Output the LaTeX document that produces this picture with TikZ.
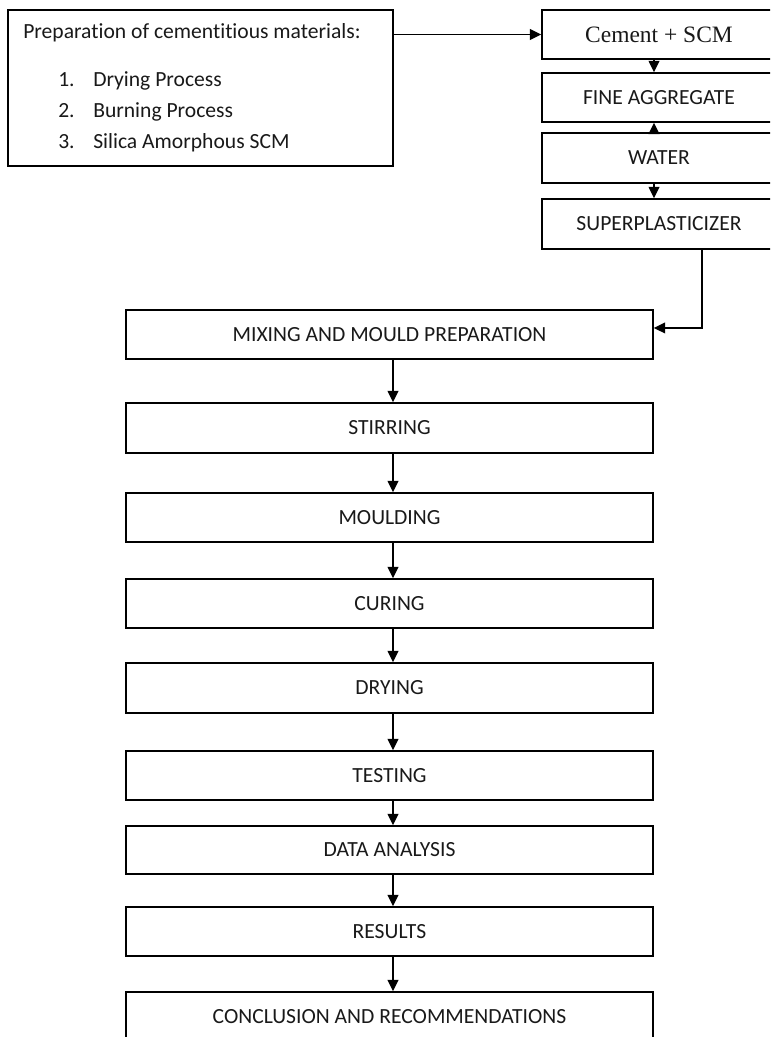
\documentclass[tikz,border=0pt]{standalone}
\usepackage{fontspec}
\setmainfont{Carlito}[Ligatures={NoCommon}]
\newfontfamily\serifface{Liberation Serif}
\usetikzlibrary{arrows.meta}
\begin{document}
\begin{tikzpicture}[x=0.75pt,y=-0.75pt,
  box/.style={draw=black,line width=1.1pt,inner sep=0pt,font=\fontsize{16.2}{19}\selectfont,text=black!90},
  mainbox/.style={box,minimum width=395.25pt,minimum height=36.75pt},
  stackbox/.style={box,minimum width=175.5pt,minimum height=36.75pt},
  arr/.style={line width=1.1pt,-{Triangle[length=8.5pt,width=8pt]}},
  itemtext/.style={anchor=base west,inner sep=0pt,font=\fontsize{16.2}{19}\selectfont,text=black!90}]
\useasboundingbox (0,0) rectangle (770,1037);
\clip (0,0) rectangle (770,1037);

% preparation of the cementitious materials
\node[box,minimum width=288.75pt,minimum height=117pt] (prep) at (200.5,88) {};
\node[itemtext] (prephead) at (23,39) {Preparation of cementitious materials:};
\node[itemtext] (item1) at (58,87) {\makebox[26.25pt][l]{1.}Drying Process};
\node[itemtext] (item2) at (58,118) {\makebox[26.25pt][l]{2.}Burning Process};
\node[itemtext] (item3) at (58,149) {\makebox[26.25pt][l]{3.}Silica Amorphous SCM};

% ingredient stack
\node[stackbox,font=\serifface\fontsize{17.6}{21}\selectfont] (cem) at (659,34.5) {Cement + SCM};
\node[stackbox] (fine) at (659,97.5) {FINE AGGREGATE};
\node[stackbox,minimum height=37.5pt] (water) at (659,158) {WATER};
\node[stackbox,minimum height=37.5pt] (super) at (659,224) {SUPERPLASTICIZER};

% main process chain
\node[mainbox] (mix) at (389.5,334.5) {MIXING AND MOULD PREPARATION};
\node[mainbox,minimum height=37.5pt] (stir) at (389.5,428) {STIRRING};
\node[mainbox] (mould) at (389.5,517.5) {MOULDING};
\node[mainbox] (cure) at (389.5,603.5) {CURING};
\node[mainbox,minimum height=37.5pt] (dry) at (389.5,688) {DRYING};
\node[mainbox] (test) at (389.5,775.5) {TESTING};
\node[mainbox,minimum height=36pt] (data) at (389.5,850) {DATA ANALYSIS};
\node[mainbox] (res) at (389.5,931.5) {RESULTS};
\node[mainbox] (conc) at (389.5,1016.5) {CONCLUSION AND RECOMMENDATIONS};

% guide lines for the connectors
\coordinate (sx) at (654,0);
\coordinate (mx) at (393,0);
\coordinate (bx) at (702,0);

% connectors
\draw[arr] (prep.east |- cem.west) -- (cem.west);
\draw[arr] (cem.south -| sx) -- (fine.north -| sx);
\draw[arr] (water.north -| sx) -- (fine.south -| sx);
\draw[arr] (water.south -| sx) -- (super.north -| sx);
\draw[arr] (super.south -| bx) |- ([yshift=4.9pt]mix.east);

\draw[arr] (mix.south -| mx) -- (stir.north -| mx);
\draw[arr] (stir.south -| mx) -- (mould.north -| mx);
\draw[arr] (mould.south -| mx) -- (cure.north -| mx);
\draw[arr] (cure.south -| mx) -- (dry.north -| mx);
\draw[arr] (dry.south -| mx) -- (test.north -| mx);
\draw[arr] (test.south -| mx) -- (data.north -| mx);
\draw[arr] (data.south -| mx) -- (res.north -| mx);
\draw[arr] (res.south -| mx) -- (conc.north -| mx);
\end{tikzpicture}
\end{document}
